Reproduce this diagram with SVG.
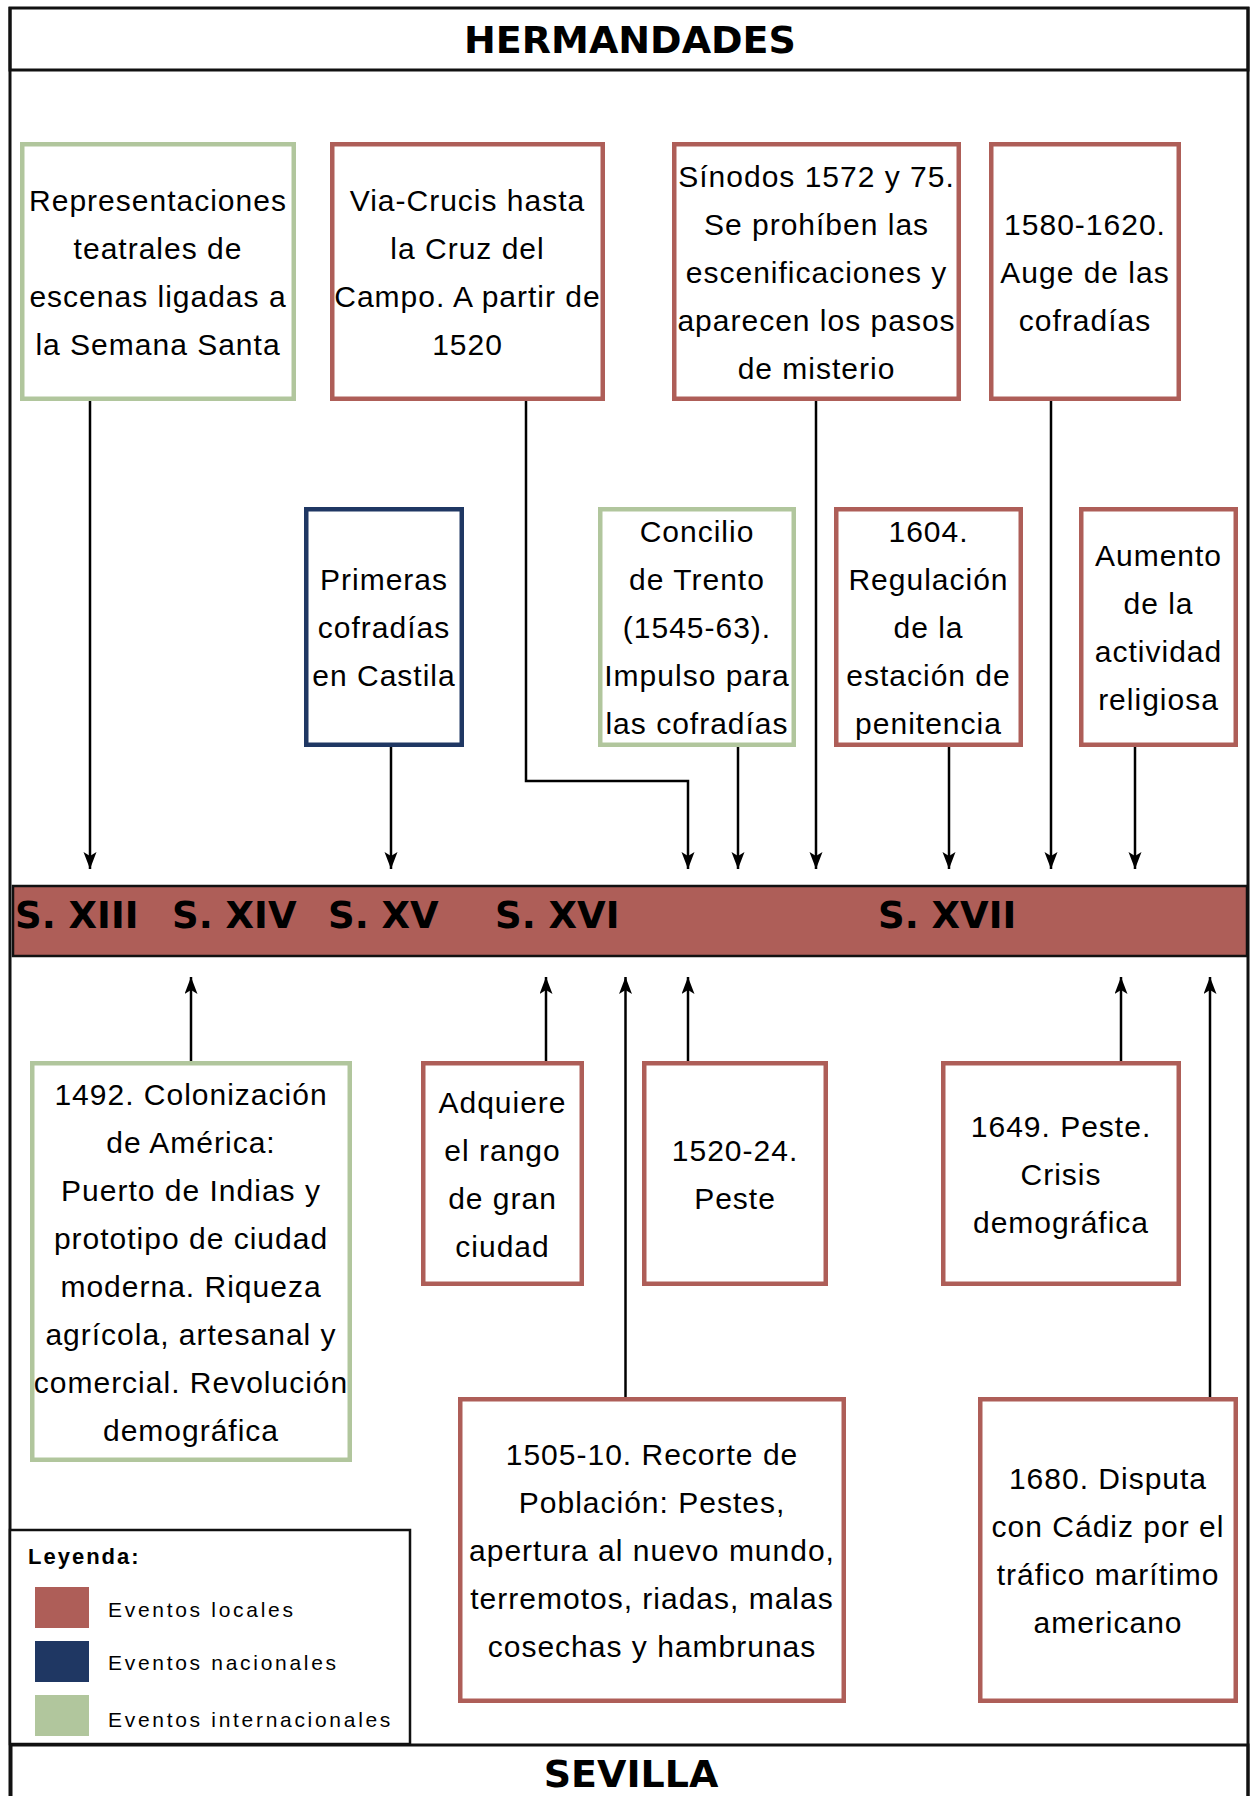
<svg xmlns="http://www.w3.org/2000/svg" width="1251" height="1796" viewBox="0 0 1251 1796">
<style>
.frame{fill:none;stroke:#111;stroke-width:3}
.box{fill:#fff;stroke-width:4.5}
.loc{stroke:#AE5E58}
.nac{stroke:#1F3763}
.int{stroke:#B1C69D}
.t{font-family:"Liberation Sans",Arial,sans-serif;font-size:30px;letter-spacing:1px;fill:#000;text-anchor:middle}
.h{font-family:"DejaVu Sans",Verdana,sans-serif;font-weight:bold;font-size:38px;fill:#000;text-anchor:middle}
.s{font-family:"DejaVu Sans",Verdana,sans-serif;font-weight:bold;font-size:37px;fill:#000}
.c{fill:none;stroke:#000;stroke-width:2.5}
.lg{font-family:"Liberation Sans",Arial,sans-serif;font-size:21px;letter-spacing:2.7px;fill:#000}
</style>
<defs>
<marker id="arr" markerUnits="userSpaceOnUse" markerWidth="18" markerHeight="14" refX="17" refY="6.5" orient="auto">
<path d="M0,0 L17,6.5 L0,13 L4,6.5 Z" fill="#000"/>
</marker>
</defs>
<rect x="0" y="0" width="1251" height="1796" fill="#fff"/>

<g id="frame">
<line x1="10" y1="7" x2="10" y2="1796" class="frame"/>
<line x1="1248" y1="7" x2="1248" y2="1796" class="frame"/>
</g>

<g id="header">
<rect x="10" y="8" width="1238" height="62" class="frame"/>
<text x="630" y="53" class="h">HERMANDADES</text>
</g>

<g id="timeline">
<rect x="13" y="886" width="1234" height="70" fill="#AE5E58" stroke="#111" stroke-width="2.5"/>
<text x="15" y="928" class="s">S. XIII</text>
<text x="172" y="928" class="s">S. XIV</text>
<text x="328" y="928" class="s">S. XV</text>
<text x="495" y="928" class="s">S. XVI</text>
<text x="878" y="928" class="s">S. XVII</text>
</g>

<g id="connectors">
<polyline class="c" points="90,401 90,869" marker-end="url(#arr)"/>
<polyline class="c" points="526,401 526,781 688,781 688,869" marker-end="url(#arr)"/>
<polyline class="c" points="816,401 816,869" marker-end="url(#arr)"/>
<polyline class="c" points="1051,401 1051,869" marker-end="url(#arr)"/>
<polyline class="c" points="391,747 391,869" marker-end="url(#arr)"/>
<polyline class="c" points="738,747 738,869" marker-end="url(#arr)"/>
<polyline class="c" points="949,747 949,869" marker-end="url(#arr)"/>
<polyline class="c" points="1135,747 1135,869" marker-end="url(#arr)"/>
<polyline class="c" points="191,1061 191,977" marker-end="url(#arr)"/>
<polyline class="c" points="546,1061 546,977" marker-end="url(#arr)"/>
<polyline class="c" points="625.5,1397 625.5,977" marker-end="url(#arr)"/>
<polyline class="c" points="688,1061 688,977" marker-end="url(#arr)"/>
<polyline class="c" points="1121,1061 1121,977" marker-end="url(#arr)"/>
<polyline class="c" points="1210,1397 1210,977" marker-end="url(#arr)"/>
</g>

<g id="n-representaciones">
<rect x="22.25" y="144.25" width="271.5" height="254.5" class="box int"/>
<text class="t" x="158"><tspan x="158" y="210.5">Representaciones</tspan><tspan x="158" y="258.5">teatrales de</tspan><tspan x="158" y="306.5">escenas ligadas a</tspan><tspan x="158" y="354.5">la Semana Santa</tspan></text>
</g>
<g id="n-viacrucis">
<rect x="332.25" y="144.25" width="270.5" height="254.5" class="box loc"/>
<text class="t"><tspan x="467.5" y="210.5">Via-Crucis hasta</tspan><tspan x="467.5" y="258.5">la Cruz del</tspan><tspan x="467.5" y="306.5">Campo. A partir de</tspan><tspan x="467.5" y="354.5">1520</tspan></text>
</g>
<g id="n-sinodos">
<rect x="674.25" y="144.25" width="284.5" height="254.5" class="box loc"/>
<text class="t"><tspan x="816.5" y="186.5">Sínodos 1572 y 75.</tspan><tspan x="816.5" y="234.5">Se prohíben las</tspan><tspan x="816.5" y="282.5">escenificaciones y</tspan><tspan x="816.5" y="330.5">aparecen los pasos</tspan><tspan x="816.5" y="378.5">de misterio</tspan></text>
</g>
<g id="n-auge">
<rect x="991.25" y="144.25" width="187.5" height="254.5" class="box loc"/>
<text class="t"><tspan x="1085" y="234.5">1580-1620.</tspan><tspan x="1085" y="282.5">Auge de las</tspan><tspan x="1085" y="330.5">cofradías</tspan></text>
</g>

<g id="n-primeras">
<rect x="306.25" y="509.25" width="155.5" height="235.5" class="box nac"/>
<text class="t"><tspan x="384" y="590">Primeras</tspan><tspan x="384" y="638">cofradías</tspan><tspan x="384" y="686">en Castila</tspan></text>
</g>
<g id="n-concilio">
<rect x="600.25" y="509.25" width="193.5" height="235.5" class="box int"/>
<text class="t"><tspan x="697" y="542">Concilio</tspan><tspan x="697" y="590">de Trento</tspan><tspan x="697" y="638">(1545-63).</tspan><tspan x="697" y="686">Impulso para</tspan><tspan x="697" y="734">las cofradías</tspan></text>
</g>
<g id="n-1604">
<rect x="836.25" y="509.25" width="184.5" height="235.5" class="box loc"/>
<text class="t"><tspan x="928.5" y="542">1604.</tspan><tspan x="928.5" y="590">Regulación</tspan><tspan x="928.5" y="638">de la</tspan><tspan x="928.5" y="686">estación de</tspan><tspan x="928.5" y="734">penitencia</tspan></text>
</g>
<g id="n-aumento">
<rect x="1081.25" y="509.25" width="154.5" height="235.5" class="box loc"/>
<text class="t"><tspan x="1158.5" y="566">Aumento</tspan><tspan x="1158.5" y="614">de la</tspan><tspan x="1158.5" y="662">actividad</tspan><tspan x="1158.5" y="710">religiosa</tspan></text>
</g>

<g id="n-1492">
<rect x="32.25" y="1063.25" width="317.5" height="396.5" class="box int"/>
<text class="t"><tspan x="191" y="1104.5">1492. Colonización</tspan><tspan x="191" y="1152.5">de América:</tspan><tspan x="191" y="1200.5">Puerto de Indias y</tspan><tspan x="191" y="1248.5">prototipo de ciudad</tspan><tspan x="191" y="1296.5">moderna. Riqueza</tspan><tspan x="191" y="1344.5">agrícola, artesanal y</tspan><tspan x="191" y="1392.5">comercial. Revolución</tspan><tspan x="191" y="1440.5">demográfica</tspan></text>
</g>
<g id="n-adquiere">
<rect x="423.25" y="1063.25" width="158.5" height="220.5" class="box loc"/>
<text class="t"><tspan x="502.5" y="1112.5">Adquiere</tspan><tspan x="502.5" y="1160.5">el rango</tspan><tspan x="502.5" y="1208.5">de gran</tspan><tspan x="502.5" y="1256.5">ciudad</tspan></text>
</g>
<g id="n-1520">
<rect x="644.25" y="1063.25" width="181.5" height="220.5" class="box loc"/>
<text class="t"><tspan x="735" y="1160.5">1520-24.</tspan><tspan x="735" y="1208.5">Peste</tspan></text>
</g>
<g id="n-1649">
<rect x="943.25" y="1063.25" width="235.5" height="220.5" class="box loc"/>
<text class="t"><tspan x="1061" y="1136.5">1649. Peste.</tspan><tspan x="1061" y="1184.5">Crisis</tspan><tspan x="1061" y="1232.5">demográfica</tspan></text>
</g>
<g id="n-1505">
<rect x="460.25" y="1399.25" width="383.5" height="301.5" class="box loc"/>
<text class="t"><tspan x="652" y="1465">1505-10. Recorte de</tspan><tspan x="652" y="1513">Población: Pestes,</tspan><tspan x="652" y="1561">apertura al nuevo mundo,</tspan><tspan x="652" y="1609">terremotos, riadas, malas</tspan><tspan x="652" y="1657">cosechas y hambrunas</tspan></text>
</g>
<g id="n-1680">
<rect x="980.25" y="1399.25" width="255.5" height="301.5" class="box loc"/>
<text class="t"><tspan x="1108" y="1489">1680. Disputa</tspan><tspan x="1108" y="1537">con Cádiz por el</tspan><tspan x="1108" y="1585">tráfico marítimo</tspan><tspan x="1108" y="1633">americano</tspan></text>
</g>

<g id="legend">
<rect x="10" y="1530" width="400" height="214" fill="#fff" stroke="#111" stroke-width="2.5"/>
<text x="28" y="1564" font-family="Liberation Sans, Arial, sans-serif" font-weight="bold" font-size="22" letter-spacing="2">Leyenda:</text>
<rect x="35" y="1587" width="54" height="41" fill="#AE5E58"/>
<rect x="35" y="1641" width="54" height="41" fill="#1F3763"/>
<rect x="35" y="1695" width="54" height="41" fill="#B1C69D"/>
<text x="108" y="1617" class="lg">Eventos locales</text>
<text x="108" y="1670" class="lg">Eventos nacionales</text>
<text x="108" y="1727" class="lg">Eventos internacionales</text>
</g>

<g id="footer">
<rect x="11" y="1745" width="1237" height="60" class="frame"/>
<text x="631" y="1787" class="h">SEVILLA</text>
</g>
</svg>
